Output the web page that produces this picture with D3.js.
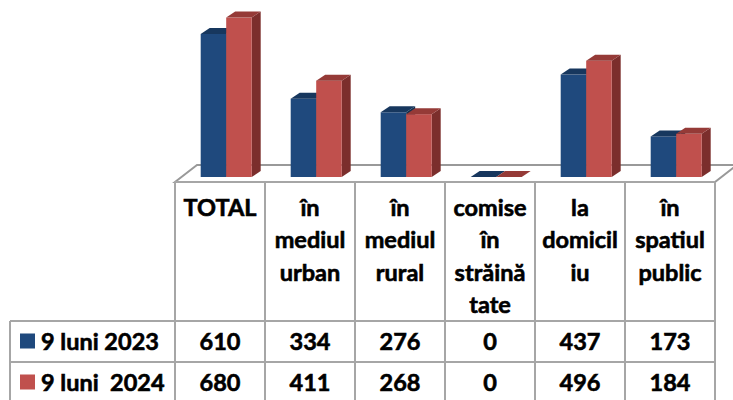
<!DOCTYPE html>
<html>
<head>
<meta charset="utf-8">
<script src="https://cdn.jsdelivr.net/npm/d3@7"></script>
<style>
  body { margin: 0; background: #fff; }
  svg text { font-family: Lato, "Open Sans", sans-serif; font-weight: bold; fill: #000;
             stroke: #000; stroke-width: 0.6px; white-space: pre; }
</style>
</head>
<body>
<div id="chart"></div>
<script>
// Categories (header lines as they wrap in the table)
const categories = [
  ["TOTAL"],
  ["în", "mediul", "urban"],
  ["în", "mediul", "rural"],
  ["comise", "în", "străină", "tate"],
  ["la", "domicil", "iu"],
  ["în", "spatiul", "public"]
];
// Series
const seriesNames = ["9 luni 2023", "9 luni  2024"];
const values2023 = [610, 334, 276, 0, 437, 173];
const values2024 = [680, 411, 268, 0, 496, 184];
const seriesValues = [values2023, values2024];

const colors = [
  {front: "#1F497D", top: "#17375E", side: "#14304F"},
  {front: "#C0504D", top: "#953A37", side: "#7B2E2C"}
];

const W = 733, H = 400;
const svg = d3.select("#chart").append("svg")
  .attr("width", W).attr("height", H);

// layout
const tableLeft = 175, tableRight = 715;
const floorFront = 182, floorDX = 22, floorDY = -17;
const baseY = 177;
const depth = {dx: 9, dy: -6};

const x = d3.scaleBand().domain(d3.range(categories.length)).range([tableLeft, tableRight]);
const xs = d3.scaleBand().domain(d3.range(seriesNames.length)).range([25.7, 76.7]);
const y = d3.scaleLinear().domain([0, 700]).range([baseY, baseY - 164.1]);

// floor
svg.append("path")
  .attr("d", `M${tableLeft},${floorFront} L${tableLeft + floorDX},${floorFront + floorDY} L${tableRight + floorDX},${floorFront + floorDY} L${tableRight},${floorFront} Z`)
  .attr("fill", "#fff").attr("stroke", "#999").attr("stroke-width", 2);

// bars (draw blue first, then red over it)
seriesValues.forEach(function(vals, s) {
  const g = svg.append("g");
  vals.forEach(function(v, i) {
    const x0 = x(i) + xs(s), x1 = x0 + xs.bandwidth();
    const yt = y(v), yb = y(0);
    // side
    g.append("path")
      .attr("d", `M${x1},${yb} L${x1 + depth.dx},${yb + depth.dy} L${x1 + depth.dx},${yt + depth.dy} L${x1},${yt} Z`)
      .attr("fill", colors[s].side);
    // front
    g.append("rect")
      .attr("x", x0).attr("y", yt).attr("width", x1 - x0).attr("height", yb - yt)
      .attr("fill", colors[s].front);
    // top
    g.append("path")
      .attr("d", `M${x0},${yt} L${x0 + depth.dx},${yt + depth.dy} L${x1 + depth.dx},${yt + depth.dy} L${x1},${yt} Z`)
      .attr("fill", colors[s].top);
  });
});

// table grid
const rowTop = 321, rowH = 41;
const grid = svg.append("g").attr("stroke", "#A6A6A6").attr("stroke-width", 2);
grid.append("line").attr("x1", tableLeft).attr("x2", tableRight).attr("y1", floorFront).attr("y2", floorFront);
[0, 1, 2].forEach(function(r) {
  grid.append("line").attr("x1", 10).attr("x2", tableRight)
    .attr("y1", rowTop + r * rowH).attr("y2", rowTop + r * rowH);
});
d3.range(categories.length + 1).forEach(function(i) {
  const xx = tableLeft + i * x.bandwidth();
  grid.append("line").attr("x1", xx).attr("x2", xx).attr("y1", floorFront).attr("y2", H);
});
grid.append("line").attr("x1", 10).attr("x2", 10).attr("y1", rowTop).attr("y2", H);

// header text
const fs = 23.5;
categories.forEach(function(lines, i) {
  lines.forEach(function(t, k) {
    svg.append("text")
      .attr("x", x(i) + x.bandwidth() / 2)
      .attr("y", 216 + k * 32.3)
      .attr("text-anchor", "middle")
      .style("font-size", fs + "px")
      .text(t);
  });
});

// rows: legend + values
seriesNames.forEach(function(name, s) {
  const cy = rowTop + s * rowH + rowH / 2;
  svg.append("rect").attr("x", 20).attr("y", cy - 8).attr("width", 15).attr("height", 15)
    .attr("fill", colors[s].front);
  svg.append("text").attr("x", 41).attr("y", cy + 8.5)
    .style("font-size", fs + "px").text(name);
  seriesValues[s].forEach(function(v, i) {
    svg.append("text")
      .attr("x", x(i) + x.bandwidth() / 2)
      .attr("y", cy + 8.5)
      .attr("text-anchor", "middle")
      .style("font-size", fs + "px")
      .text(v);
  });
});
</script>
</body>
</html>
